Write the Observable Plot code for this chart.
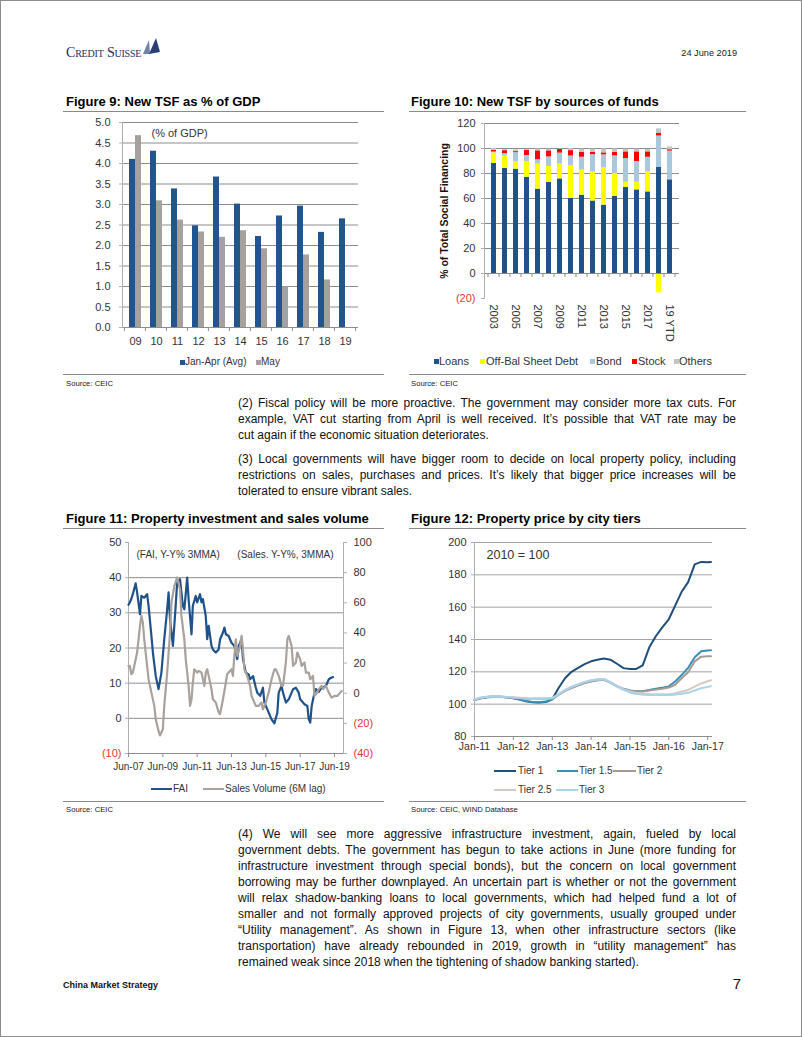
<!DOCTYPE html>
<html><head><meta charset="utf-8">
<script src="https://cdn.jsdelivr.net/npm/d3@7"></script>
<script src="https://cdn.jsdelivr.net/npm/@observablehq/plot@0.6"></script>
<style>
html,body{margin:0;padding:0;background:#fff;}
#page{position:relative;width:802px;height:1037px;box-sizing:border-box;border:1px solid #8c8c8c;font-family:"Liberation Sans",Arial,sans-serif;color:#111;overflow:hidden;background:#fff;}
.abs{position:absolute;}
.title{position:absolute;font-weight:bold;font-size:13px;line-height:14px;white-space:nowrap;color:#000;}
.rule{position:absolute;height:0;border-top:1px solid #8a8a8a;}
.src{position:absolute;font-size:7.7px;line-height:9px;color:#222;white-space:nowrap;}
.para{position:absolute;left:237px;width:498px;font-size:12px;line-height:16px;color:#111;}
.para div{height:16px;text-align:justify;text-align-last:justify;}
.para div.last{text-align-last:left;}
.leg{position:absolute;font-size:10px;line-height:12px;color:#333;white-space:nowrap;}
.sq{position:absolute;width:5px;height:5px;}
.ln{position:absolute;height:0;border-top:2.5px solid;}
</style>
</head>
<body>
<div id="page">
  <div class="abs" style="left:65px;top:44px;font-family:'Liberation Serif',serif;font-variant:small-caps;font-size:14px;line-height:16px;color:#1c2f5e;letter-spacing:-0.2px;">Credit Suisse</div>
  <svg class="abs" style="left:139px;top:36px" width="22" height="19"><polygon points="3,17 9,3 10,17" fill="#7082aa"/><polygon points="9,17 16,1 20,15" fill="#2a3f75"/></svg>
  <div class="abs" style="left:600px;width:136px;text-align:right;top:46px;font-size:9.2px;line-height:12px;color:#222;">24 June 2019</div>

  <div class="title" style="left:65px;top:94px;">Figure 9: New TSF as % of GDP</div>
  <div class="rule" style="left:62px;width:321px;top:110px;"></div>
  <div class="title" style="left:410px;top:94px;">Figure 10: New TSF by sources of funds</div>
  <div class="rule" style="left:408px;width:337px;top:110px;"></div>
  <div id="fig9" class="abs" style="left:60px;top:112px;"></div>
  <div id="fig10" class="abs" style="left:405px;top:112px;"></div>
  <div id="leg9"></div>
  <div id="leg10"></div>
  <div class="rule" style="left:62px;width:321px;top:373px;"></div>
  <div class="rule" style="left:408px;width:337px;top:373px;"></div>
  <div class="src" style="left:65px;top:378px;">Source: CEIC</div>
  <div class="src" style="left:410px;top:378px;">Source: CEIC</div>

  <div class="para" style="top:394px;">
    <div>(2) Fiscal policy will be more proactive. The government may consider more tax cuts. For</div>
    <div>example, VAT cut starting from April is well received. It’s possible that VAT rate may be</div>
    <div class="last">cut again if the economic situation deteriorates.</div>
  </div>
  <div class="para" style="top:450px;">
    <div>(3) Local governments will have bigger room to decide on local property policy, including</div>
    <div>restrictions on sales, purchases and prices. It’s likely that bigger price increases will be</div>
    <div class="last">tolerated to ensure vibrant sales.</div>
  </div>

  <div class="title" style="left:65px;top:511px;">Figure 11: Property investment and sales volume</div>
  <div class="rule" style="left:62px;width:321px;top:527px;"></div>
  <div class="title" style="left:410px;top:511px;">Figure 12: Property price by city tiers</div>
  <div class="rule" style="left:408px;width:337px;top:527px;"></div>
  <div id="fig11" class="abs" style="left:60px;top:532px;"></div>
  <div id="fig12" class="abs" style="left:405px;top:532px;"></div>
  <div id="leg11"></div>
  <div id="leg12"></div>
  <div class="rule" style="left:62px;width:321px;top:800px;"></div>
  <div class="rule" style="left:408px;width:337px;top:800px;"></div>
  <div class="src" style="left:65px;top:804px;">Source: CEIC</div>
  <div class="src" style="left:410px;top:804px;">Source: CEIC, WIND Database</div>

  <div class="para" style="top:825px;">
    <div>(4) We will see more aggressive infrastructure investment, again, fueled by local</div>
    <div>government debts. The government has begun to take actions in June (more funding for</div>
    <div>infrastructure investment through special bonds), but the concern on local government</div>
    <div>borrowing may be further downplayed. An uncertain part is whether or not the government</div>
    <div>will relax shadow-banking loans to local governments, which had helped fund a lot of</div>
    <div>smaller and not formally approved projects of city governments, usually grouped under</div>
    <div>“Utility management”. As shown in Figure 13, when other infrastructure sectors (like</div>
    <div>transportation) have already rebounded in 2019, growth in “utility management” has</div>
    <div class="last">remained weak since 2018 when the tightening of shadow banking started).</div>
  </div>

  <div class="abs" style="left:62px;top:979px;font-size:9px;line-height:11px;font-weight:bold;color:#111;">China Market Strategy</div>
  <div class="abs" style="left:700px;width:40px;text-align:right;top:974px;font-size:15px;line-height:18px;color:#111;">7</div>
</div>

<script>
// ---------------- DATA ----------------
// Figure 9
const years9 = ["09","10","11","12","13","14","15","16","17","18","19"];
const janAprAvg = [4.10, 4.30, 3.38, 2.48, 3.67, 3.01, 2.22, 2.72, 2.96, 2.32, 2.65];
const mayValues = [4.68, 3.09, 2.62, 2.33, 2.20, 2.36, 1.92, 0.99, 1.77, 1.16, null];
const ticks9 = [0, 0.5, 1, 1.5, 2, 2.5, 3, 3.5, 4, 4.5, 5];

// Figure 10
const years10 = ["2003","2004","2005","2006","2007","2008","2009","2010","2011","2012","2013","2014","2015","2016","2017","2018","19 YTD"];
const xLabels10 = ["2003","2005","2007","2009","2011","2013","2015","2017","19 YTD"];
const sources10 = ["Loans","Off-Bal Sheet Debt","Bond","Stock","Others"];
const loans  = [88.0, 84.0, 83.5, 77.0, 67.5, 73.0, 75.7, 60.0, 62.7, 58.0, 54.7, 61.6, 68.8, 66.9, 65.3, 84.8, 75.0];
const offBal = [8.5, 10.0, 6.0, 12.6, 20.0, 12.6, 11.8, 26.3, 20.0, 23.2, 30.1, 18.4, 4.2, 6.1, 16.3, -15.5, 0.3];
const bond   = [0.7, 1.9, 7.2, 4.8, 3.5, 7.7, 8.8, 7.7, 10.3, 13.9, 10.1, 14.1, 19.0, 16.6, 11.4, 25.2, 22.6];
const stock  = [1.3, 2.4, 0.8, 4.2, 7.1, 4.8, 2.9, 4.3, 4.0, 1.8, 1.6, 2.9, 5.3, 7.7, 4.3, 2.0, 1.1];
const others = [1.5, 0.8, 1.4, 0.6, 1.6, 1.4, 0.3, 1.6, 2.5, 2.7, 3.2, 2.7, 2.2, 2.2, 2.0, 3.7, 2.3];
const colors10 = ["#1f5289", "#ffff00", "#a9c8dc", "#ff0000", "#c4c4c4"];

// Figure 11 (FAI left axis, Sales Volume right axis)
const faiDates = ["2007-06","2007-07","2007-08","2007-09","2007-11","2007-12","2008-02","2008-03","2008-05","2008-07","2008-08","2008-10","2008-11","2009-01","2009-03","2009-05","2009-07","2009-09","2009-10","2009-11","2010-01","2010-03","2010-04","2010-06","2010-08","2010-09","2010-11","2010-12","2011-02","2011-03","2011-05","2011-06","2011-08","2011-09","2011-10","2011-12","2012-01","2012-02","2012-04","2012-05","2012-07","2012-09","2012-10","2012-12","2013-01","2013-02","2013-04","2013-06","2013-08","2013-10","2013-11","2014-01","2014-02","2014-04","2014-06","2014-07","2014-09","2014-11","2014-12","2015-02","2015-04","2015-05","2015-07","2015-10","2015-12","2016-02","2016-03","2016-05","2016-06","2016-08","2016-10","2017-01","2017-03","2017-05","2017-06","2017-09","2017-11","2017-12","2018-01","2018-02","2018-04","2018-05","2018-07","2018-09","2018-12","2019-02","2019-04","2019-05"];
const faiValues = [32.3,33.0,34.0,35.3,38.4,35.8,29.6,34.8,34.3,35.3,32.0,23.4,18.7,12.0,8.3,13.0,22.5,31.0,35.8,28.2,20.6,32.0,38.6,39.6,32.0,31.0,40.0,33.9,23.9,32.0,34.8,33.0,35.3,33.0,33.9,29.1,22.5,26.3,20.6,19.6,18.7,19.6,22.5,24.4,25.8,23.9,23.4,21.5,20.6,16.8,20.6,22.5,16.8,13.0,12.5,11.1,12.0,8.7,7.3,6.4,8.7,4.5,2.6,-0.3,-1.4,1.6,7.3,9.2,7.3,4.5,5.4,8.3,8.7,7.3,5.4,4.0,3.5,-0.3,-1.2,3.5,7.3,8.3,7.5,8.7,9.2,11.1,11.6,11.7];
const salesDates = ["2007-06","2007-07","2007-08","2007-09","2007-11","2007-12","2008-02","2008-03","2008-04","2008-05","2008-07","2008-08","2008-10","2008-12","2009-01","2009-03","2009-04","2009-06","2009-07","2009-09","2009-11","2009-12","2010-02","2010-04","2010-06","2010-07","2010-09","2010-10","2010-12","2011-01","2011-02","2011-03","2011-04","2011-06","2011-07","2011-09","2011-11","2011-12","2012-01","2012-02","2012-04","2012-05","2012-07","2012-09","2012-10","2012-12","2013-02","2013-03","2013-04","2013-06","2013-07","2013-08","2013-09","2013-10","2013-12","2014-01","2014-02","2014-03","2014-05","2014-07","2014-08","2014-10","2014-11","2015-01","2015-03","2015-04","2015-06","2015-08","2015-10","2015-12","2016-01","2016-03","2016-05","2016-06","2016-08","2016-09","2016-10","2016-12","2017-01","2017-03","2017-04","2017-06","2017-07","2017-09","2017-10","2017-12","2018-01","2018-03","2018-04","2018-06","2018-07","2018-09","2018-10","2018-12","2019-02","2019-04","2019-06","2019-08","2019-10","2019-11"];
const salesValues = [18.1,18.0,12.6,13.7,22.6,27.0,44.7,51.3,46.9,35.8,18.1,9.3,0.4,-8.4,-17.3,-25.0,-28.0,-23.9,-8.4,13.7,40.3,60.2,71.2,76.8,69.0,51.3,35.8,22.6,4.9,-8.4,-4.0,7.1,15.9,13.7,14.8,13.7,4.9,13.7,15.9,11.5,2.7,-4.0,-6.2,-12.8,-13.9,-4.0,7.1,12.6,13.7,15.9,11.5,24.8,35.8,24.8,31.4,38.0,29.2,15.9,11.5,4.9,-1.8,-6.2,-8.4,-8.4,-6.2,-10.6,-6.2,0.4,9.3,15.9,15.9,11.5,4.9,4.9,20.4,35.8,38.0,31.4,18.1,20.4,27.0,22.6,18.1,20.4,13.7,13.7,9.3,11.5,-1.8,0.4,2.7,4.9,2.7,4.9,0.4,-2.9,-1.8,-1.8,0.4,1.5];
const leftTicks11 = [50, 40, 30, 20, 10, 0, -10];
const rightTicks11 = [100, 80, 60, 40, 20, 0, -20, -40];
const xTicks11 = ["2007-06","2009-06","2011-06","2013-06","2015-06","2017-06","2019-06"];

// Figure 12 (2010 = 100)
const tierDates = ["2011-01","2011-03","2011-05","2011-07","2011-09","2011-11","2012-01","2012-03","2012-05","2012-07","2012-09","2012-11","2013-01","2013-03","2013-05","2013-07","2013-09","2013-11","2014-01","2014-03","2014-05","2014-07","2014-09","2014-11","2015-01","2015-03","2015-05","2015-07","2015-09","2015-11","2016-01","2016-03","2016-05","2016-07","2016-09","2016-11","2017-01","2017-02"];
const tier1  = [102.7,103.6,104.2,104.5,104.5,104.2,103.6,102.8,101.8,101.2,101.0,101.3,103.0,110.0,116.0,120.0,122.5,124.8,126.5,127.5,128.3,127.5,125.0,122.3,121.7,121.8,124.0,135.0,142.0,147.5,152.5,161.0,169.5,175.5,186.5,188.0,187.8,188.0];
const tier15 = [102.5,103.8,104.4,104.7,104.6,104.3,103.8,102.8,101.8,101.3,101.2,101.6,103.0,106.0,108.5,110.3,111.8,113.2,114.2,115.0,115.3,113.5,111.2,109.5,108.5,108.0,108.0,108.8,109.5,110.2,111.0,114.0,118.0,122.5,129.0,132.7,133.2,133.3];
const tier2  = [102.6,103.8,104.4,104.7,104.6,104.3,104.0,103.7,103.4,103.3,103.3,103.4,103.6,105.8,108.2,110.0,111.5,113.0,114.0,114.8,115.0,113.3,111.0,109.3,108.3,107.8,107.8,108.4,109.0,109.6,110.3,112.0,116.0,119.8,126.5,129.4,129.6,129.6];
const tier25 = [102.8,104.0,104.6,104.9,104.8,104.5,104.2,103.9,103.6,103.5,103.5,103.6,103.8,106.3,108.8,110.8,112.3,113.8,114.8,115.4,115.6,113.8,111.3,109.3,107.8,107.0,106.6,106.3,106.2,106.1,106.2,106.7,107.8,108.8,110.8,112.8,114.2,114.8];
const tier3  = [103.0,104.1,104.6,104.9,104.8,104.5,104.1,103.8,103.5,103.4,103.4,103.5,103.7,106.1,108.6,110.6,112.1,113.6,114.6,115.2,115.4,113.5,110.9,108.8,107.2,106.3,105.9,105.7,105.6,105.6,105.7,105.9,106.4,107.0,108.5,109.8,110.7,111.1];
const tierNames = ["Tier 1","Tier 1.5","Tier 2","Tier 2.5","Tier 3"];
const tierColors = ["#1f4e7c","#3a8fb7","#a39a94","#d3cbc2","#a9d3ea"];
const xTicks12 = ["2011-01","2012-01","2013-01","2014-01","2015-01","2016-01","2017-01"];

// ---------------- HELPERS ----------------
const parseM = d3.utcParse("%Y-%m");
const FONT = '"Liberation Sans", Arial, sans-serif';
const baseStyle = {fontFamily: FONT, fontSize: "11px", color: "#333", background: "transparent", overflow: "visible"};
const GRID = "#8c8c8c", AXIS = "#b0b0b0", RED = "#e8362f";
const paren = d => d < 0 ? `(${Math.abs(d)})` : `${d}`;

// band separators (category boundary ticks) drawn from the band scale
function bandSeps(yVal, len) {
  return (index, scales) => {
    const x = scales.x, y = scales.y;
    const step = x.step(), pi = x.paddingInner();
    const dom = x.domain();
    const pts = dom.map(d => x(d) - step * pi / 2);
    pts.push(x(dom[dom.length - 1]) + x.bandwidth() + step * pi / 2);
    const g = d3.create("svg:g").attr("stroke", GRID);
    const y0 = y(yVal);
    for (const p of pts) g.append("line").attr("x1", p).attr("x2", p).attr("y1", y0).attr("y2", y0 + len);
    return g.node();
  };
}

// ---------------- FIGURE 9 ----------------
const d9 = years9.map((y, i) => ({year: y, janApr: janAprAvg[i], may: mayValues[i]}));
document.getElementById("fig9").append(Plot.plot({
  width: 305, height: 240, marginLeft: 61, marginRight: 8, marginTop: 9, marginBottom: 26,
  style: baseStyle,
  x: {domain: years9, paddingInner: 0.44, paddingOuter: 0.22, label: null},
  y: {domain: [0, 5], label: null},
  marks: [
    Plot.gridY(ticks9.filter(t => t > 0), {stroke: GRID, strokeOpacity: 1}),
    Plot.barY(d9, {x: "year", y: "janApr", fill: "#22558e", insetRight: 6}),
    Plot.barY(d9.filter(d => d.may != null), {x: "year", y: "may", fill: "#a7a19d", insetLeft: 6}),
    Plot.ruleY([0], {stroke: GRID}),
    Plot.frame({anchor: "left", stroke: AXIS}),
    bandSeps(0, 4),
    Plot.axisY(ticks9, {tickFormat: d3.format(".1f"), tickSize: 3, tickPadding: 9, stroke: AXIS}),
    Plot.axisX({tickSize: 0, tickPadding: 10}),
    Plot.text(["(% of GDP)"], {frameAnchor: "top-left", textAnchor: "start", lineAnchor: "top", dx: 29, dy: 7, fontSize: 11, fill: "#333"})
  ]
}));
{
  const L = document.getElementById("leg9");
  L.innerHTML = `<div class="sq" style="left:179px;top:359px;background:#22558e"></div>
  <div class="leg" style="left:184px;top:355px;">Jan-Apr (Avg)</div>
  <div class="sq" style="left:255px;top:359px;background:#a7a19d"></div>
  <div class="leg" style="left:260px;top:355px;">May</div>`;
}

// ---------------- FIGURE 10 ----------------
const series10 = [loans, offBal, bond, stock, others];
const long10 = years10.flatMap((y, i) => sources10.map((s, k) => ({year: y, source: s, value: series10[k][i]})));
document.getElementById("fig10").append(Plot.plot({
  width: 280, height: 240, marginLeft: 78, marginRight: 7, marginTop: 10, marginBottom: 55,
  style: baseStyle,
  x: {domain: years10, paddingInner: 0.55, paddingOuter: 0.275, label: null},
  y: {domain: [-20, 120], label: null},
  color: {domain: sources10, range: colors10},
  marks: [
    Plot.gridY([20, 40, 60, 80, 100, 120], {stroke: GRID, strokeOpacity: 1}),
    Plot.barY(long10, {x: "year", y: "value", fill: "source"}),
    Plot.ruleY([0], {stroke: GRID}),
    Plot.frame({anchor: "left", stroke: AXIS}),
    bandSeps(0, 4),
    Plot.axisY([0, 20, 40, 60, 80, 100, 120], {tickSize: 3, tickPadding: 6, stroke: AXIS}),
    Plot.axisY([-20], {tickSize: 3, tickPadding: 6, stroke: AXIS, fill: RED, tickFormat: paren}),
    Plot.axisX(xLabels10, {tickRotate: 90, tickSize: 0, tickPadding: 6}),
    Plot.text(["% of Total Social Financing"], {frameAnchor: "left", textAnchor: "middle", rotate: -90, dx: -40, fontWeight: "bold", fontSize: 10.5, fill: "#111"})
  ]
}));
{
  const L = document.getElementById("leg10");
  const items = [[433, 438, "Loans"], [479, 485, "Off-Bal Sheet Debt"], [589, 595, "Bond"], [631, 637, "Stock"], [673, 678, "Others"]];
  L.innerHTML = items.map((it, i) => `<div class="sq" style="left:${it[0]}px;top:358px;background:${colors10[i]}"></div><div class="leg" style="font-size:11px;left:${it[1]}px;top:354px;">${it[2]}</div>`).join("");
}

// ---------------- FIGURE 11 ----------------
const leftOf = r => (r + 40) * 3 / 7 - 10;     // right-axis value -> left-axis position
const rightOf = v => Math.round((v + 10) * 7 / 3 - 40);
const fai = faiDates.map((d, i) => ({date: parseM(d), value: faiValues[i]}));
const sales = salesDates.map((d, i) => ({date: parseM(d), value: salesValues[i]}));
document.getElementById("fig11").append(Plot.plot({
  width: 310, height: 246, marginLeft: 67, marginRight: 28, marginTop: 9, marginBottom: 26,
  style: baseStyle,
  x: {type: "utc", domain: [new Date(Date.UTC(2007, 5, 1)), new Date(Date.UTC(2019, 11, 10))], label: null},
  y: {domain: [-10, 50], label: null},
  marks: [
    Plot.gridY([0, 10, 20, 30, 40], {stroke: GRID, strokeOpacity: 1}),
    Plot.ruleY([-10], {stroke: GRID}),
    Plot.frame({anchor: "left", stroke: AXIS}),
    Plot.frame({anchor: "right", stroke: AXIS}),
    Plot.lineY(fai, {x: "date", y: "value", stroke: "#1f5289", strokeWidth: 2.2}),
    Plot.lineY(sales, {x: "date", y: d => leftOf(d.value), stroke: "#a9a19c", strokeWidth: 2.2}),
    Plot.axisY(leftTicks11.filter(t => t >= 0), {tickSize: 3, tickPadding: 4, stroke: AXIS}),
    Plot.axisY(leftTicks11.filter(t => t < 0), {tickSize: 3, tickPadding: 4, stroke: AXIS, fill: RED, tickFormat: paren}),
    Plot.axisY(rightTicks11.filter(t => t >= 0).map(leftOf), {anchor: "right", tickSize: 3, tickPadding: 7, stroke: AXIS, tickFormat: v => paren(rightOf(v))}),
    Plot.axisY(rightTicks11.filter(t => t < 0).map(leftOf), {anchor: "right", tickSize: 3, tickPadding: 7, stroke: AXIS, fill: RED, tickFormat: v => paren(rightOf(v))}),
    Plot.axisX(xTicks11.map(parseM), {tickFormat: "%b-%y", tickSize: 4, tickPadding: 5, stroke: GRID, fontSize: 10}),
    Plot.text(["(FAI, Y-Y% 3MMA)"], {frameAnchor: "top-left", textAnchor: "start", lineAnchor: "top", dx: 8, dy: 8, fontSize: 10, fill: "#333"}),
    Plot.text(["(Sales. Y-Y%, 3MMA)"], {frameAnchor: "top-right", textAnchor: "end", lineAnchor: "top", dx: -10, dy: 8, fontSize: 10, fill: "#333"})
  ]
}));
{
  const L = document.getElementById("leg11");
  L.innerHTML = `<div class="ln" style="left:150px;width:21px;top:787px;border-color:#1f5289"></div>
  <div class="leg" style="left:172px;top:782px;">FAI</div>
  <div class="ln" style="left:202px;width:21px;top:787px;border-color:#a9a19c"></div>
  <div class="leg" style="left:224px;top:782px;">Sales Volume (6M lag)</div>`;
}

// ---------------- FIGURE 12 ----------------
const tierSeries = [tier1, tier15, tier2, tier25, tier3];
const long12 = tierNames.flatMap((n, k) => tierDates.map((d, i) => ({tier: n, date: parseM(d), value: tierSeries[k][i]})));
document.getElementById("fig12").append(Plot.plot({
  width: 320, height: 226, marginLeft: 68, marginRight: 14, marginTop: 9, marginBottom: 23,
  style: baseStyle,
  x: {type: "utc", domain: [new Date(Date.UTC(2011, 0, 1)), new Date(Date.UTC(2017, 1, 15))], label: null},
  y: {domain: [80, 200], label: null},
  color: {domain: tierNames, range: tierColors},
  marks: [
    Plot.gridY([100, 120, 140, 160, 180, 200], {stroke: GRID, strokeOpacity: 0.8}),
    Plot.ruleY([80], {stroke: GRID}),
    Plot.frame({anchor: "left", stroke: AXIS}),
    Plot.lineY(long12, {x: "date", y: "value", z: "tier", stroke: "tier", strokeWidth: 2}),
    Plot.axisY([80, 100, 120, 140, 160, 180, 200], {tickSize: 3, tickPadding: 5, stroke: AXIS}),
    Plot.axisX(xTicks12.map(parseM), {tickFormat: "%b-%y", tickSize: 4, tickPadding: 2, stroke: GRID, fontSize: 10.5}),
    Plot.text(["2010 = 100"], {frameAnchor: "top-left", textAnchor: "start", lineAnchor: "top", dx: 12, dy: 8, fontSize: 12.5, fill: "#333"})
  ]
}));
{
  const L = document.getElementById("leg12");
  const items = [[493, 22, 517, 764, 0], [556, 21, 578, 764, 1], [612, 23, 636, 764, 2], [493, 22, 517, 783, 3], [555, 22, 578, 783, 4]];
  L.innerHTML = items.map(it => `<div class="ln" style="left:${it[0]}px;width:${it[1]}px;top:${it[3] + 5}px;border-color:${tierColors[it[4]]}"></div><div class="leg" style="left:${it[2]}px;top:${it[3]}px;">${tierNames[it[4]]}</div>`).join("");
}
</script>
</body></html>
